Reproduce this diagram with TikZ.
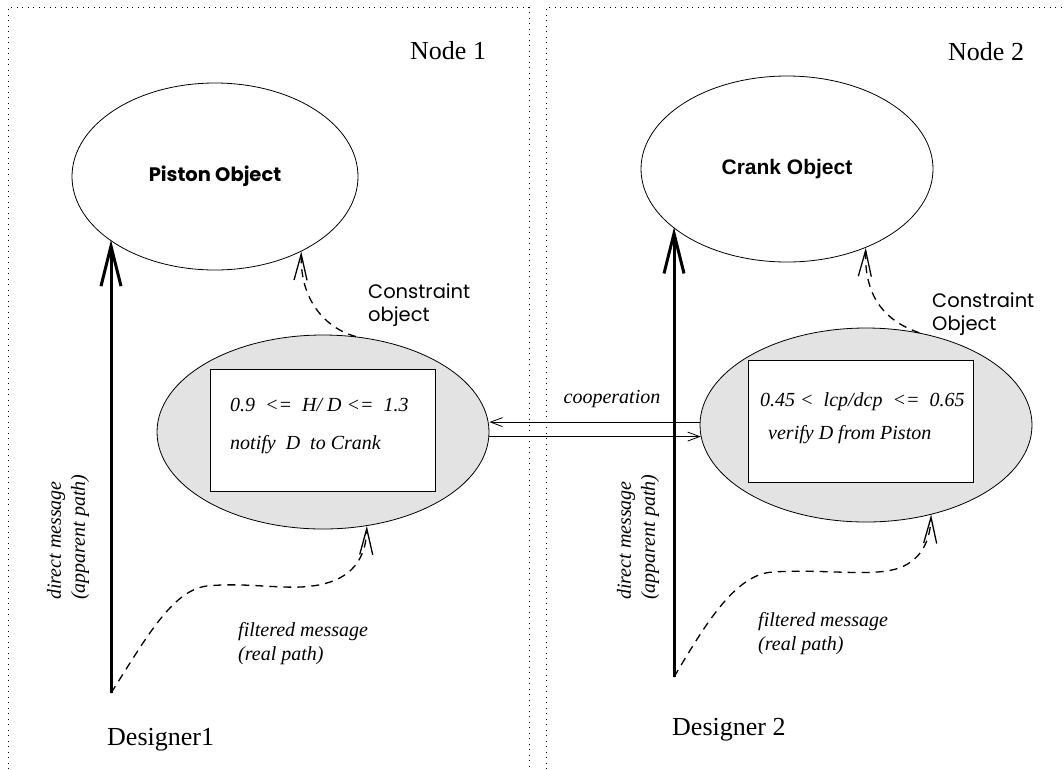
\documentclass[tikz,border=0pt]{standalone}
\usepackage{fontspec}
\setmainfont{Liberation Serif}
\newfontfamily\gothfont{Poppins}
\newfontfamily\helvfont{Liberation Sans}
\usetikzlibrary{shapes.geometric,arrows.meta}

\begin{document}
\begin{tikzpicture}[x=1pt,y=-1pt,
    frame/.style={line width=0.9pt, dash pattern=on 1pt off 4.5pt},
    title/.style={font=\fontsize{26}{30}\selectfont, inner sep=0pt},
    msg/.style={font=\fontsize{20}{24}\selectfont\itshape, inner sep=0pt},
    note/.style={font=\gothfont\fontsize{19.5}{23}\selectfont, inner sep=0pt, align=left},
    object/.style={ellipse, draw, line width=0.8pt},
    cons/.style={ellipse, draw, line width=0.8pt, fill=black!11,
        minimum width=332pt, minimum height=194pt},
    rulebox/.style={draw, line width=0.8pt, fill=white,
        minimum width=225pt, minimum height=122pt},
    direct/.style={line width=3pt, -{Straight Barb[length=40pt,width=20pt]}},
    filt/.style={line width=1.3pt, dash pattern=on 8pt off 6pt,
        -{Straight Barb[length=26pt,width=13pt]}},
    coop/.style={line width=0.8pt, -{Straight Barb[length=12pt,width=9pt]}}]
        \useasboundingbox (0,0) rectangle (1064,769);
        %% the two nodes
        \draw[frame] (8,769) -- (8,7.5) -- (529,7.5) -- (529,769);
        \draw[frame] (546,769) -- (546,7.5) -- (1064,7.5);
        \node[title, anchor=base west] (node1) at (410,59) {Node 1};
        \node[title, anchor=base west] (node2) at (948,60) {Node 2};
        %% objects
        \node[object, minimum width=286pt, minimum height=187pt,
            font=\gothfont\bfseries\fontsize{19.5}{23}\selectfont] (piston) at (215,176.5) {Piston Object};
        \node[object, minimum width=292pt, minimum height=186pt,
            font=\helvfont\bfseries\fontsize{21}{25}\selectfont] (crank) at (787,169) {Crank Object};
        %% constraint objects
        \node[cons] (lcons) at (323,432) {};
        \node[cons] (rcons) at (866,425) {};
        \node[rulebox] (lrule) at (322.5,430) {};
        \node[rulebox] (rrule) at (860.5,421) {};
        \node[msg, anchor=base west] (lrule1) at (230,411) {0.9\ \ <=\ \ H/ D <=\ \ 1.3};
        \node[msg, anchor=base west] (lrule2) at (230,449) {notify\ \ D\ \ to Crank};
        \node[msg, anchor=base west] (rrule1) at (760,406) {0.45 <\ \ lcp/dcp\ \ <=\ \ 0.65};
        \node[msg, anchor=base west] (rrule2) at (768,439) {verify D from Piston};
        \node[note, anchor=north west] (lnote) at (368,283) {Constraint\\object};
        \node[note, anchor=north west] (rnote) at (932,292) {Constraint\\Object};
        %% cooperation
        \draw[coop] (rcons.179) -- (rcons.179 -| lcons.east);
        \draw[coop] (rcons.184.5 -| lcons.east) -- (rcons.184.5);
        \node[msg, anchor=base] (coopmsg) at (612,403) {cooperation};
        %% designers
        \node[title, anchor=base west] (des1) at (107,745) {Designer1};
        \node[title, anchor=base west] (des2) at (672,735) {Designer 2};
        \coordinate (d1foot) at (111,693);
        \coordinate (d2foot) at (674,677);
        %% direct messages
        \draw[direct] (d1foot) -- (d1foot |- piston.211.7);
        \draw[direct] (d2foot) -- (d2foot |- crank.207.5);
        \node[msg, rotate=90, anchor=west, align=left] (d1msg) at (68,600) {direct message\\(apparent path)};
        \node[msg, rotate=90, anchor=west, align=left] (d2msg) at (638,600) {direct message\\(apparent path)};
        %% filtered messages
        \draw[filt] (d1foot) .. controls (145,640) and (172,590) .. (207,586)
            .. controls (245,582) and (285,590) .. (312,586)
            .. controls (345,582) and (366,565) .. (lcons.-65.3);
        \draw[filt] (d2foot) .. controls (705,625) and (735,574) .. (773,572)
            .. controls (820,569) and (865,576) .. (892,570)
            .. controls (915,565) and (930,548) .. (rcons.-54.4);
        \node[msg, anchor=north west, align=left] (f1msg) at (238,622) {filtered message\\(real path)};
        \node[msg, anchor=north west, align=left] (f2msg) at (758,612) {filtered message\\(real path)};
        %% constraints to objects
        \draw[filt] (lcons.71.4) .. controls (325,328) and (300,300) .. (piston.-41.5);
        \draw[filt] (rcons.60.5) .. controls (888,322) and (864,300) .. (crank.-45.7);
\end{tikzpicture}
\end{document}
